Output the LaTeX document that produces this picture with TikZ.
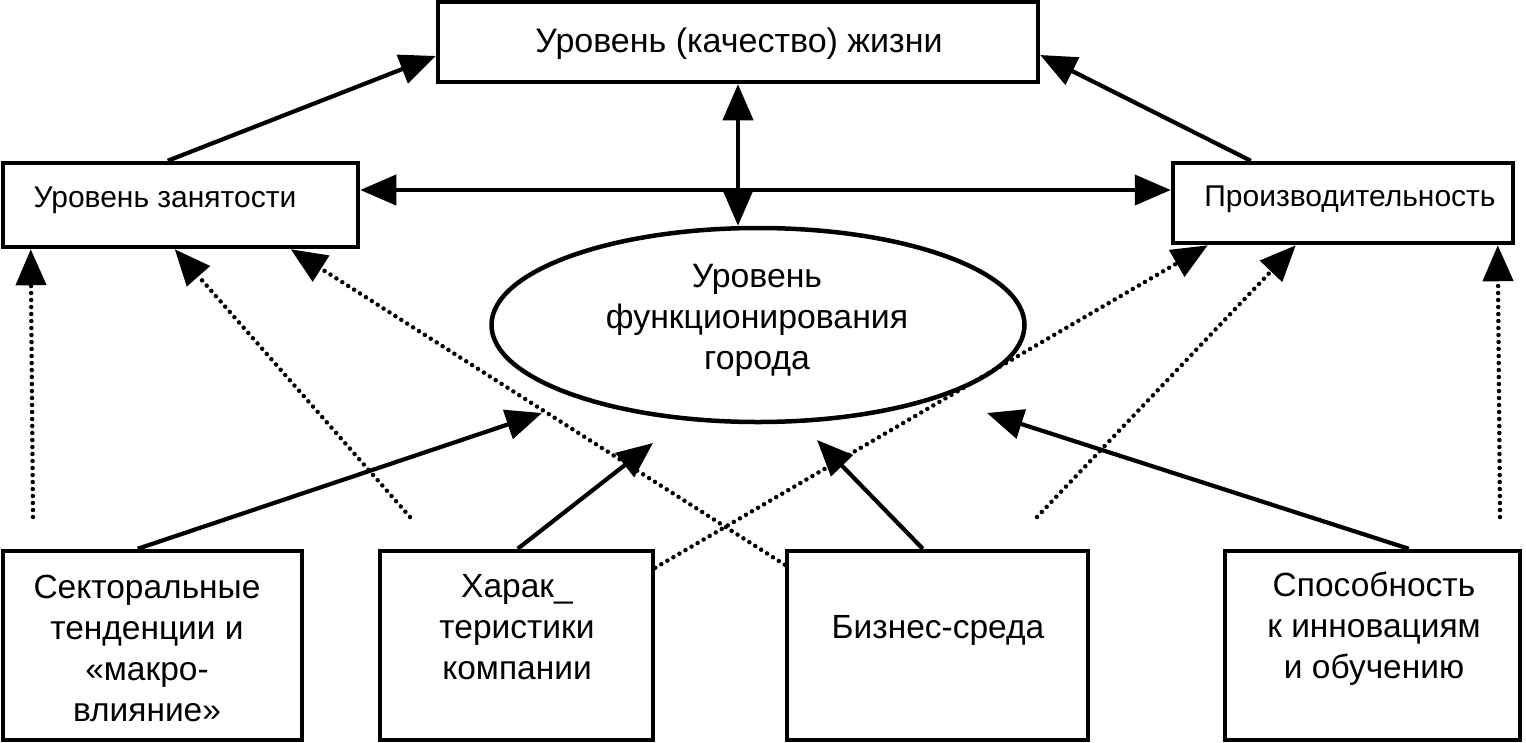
\documentclass[tikz,border=0pt]{standalone}
\usepackage{fontspec}
\setmainfont{Liberation Sans}
\usetikzlibrary{arrows.meta,shapes.geometric}
\begin{document}
\begin{tikzpicture}[x=1pt,y=-1pt,
  box/.style={draw,line width=4.5pt,rectangle,inner sep=0pt},
  arr/.style={line width=4.2pt,-{Triangle[length=36pt,width=30pt]}},
  dblarr/.style={line width=4.2pt,{Triangle[length=36pt,width=30pt]}-{Triangle[length=36pt,width=30pt]}},
  dotarr/.style={line width=4.5pt,line cap=round,dash pattern=on 0pt off 7pt,-{Triangle[length=36pt,width=30pt]}},
  txt/.style={align=center,inner sep=0pt}]
\useasboundingbox (0,0) rectangle (1526,742);
% boxes
\node[box,minimum width=600pt,minimum height=80pt] (tbox) at (738,42) {};
\node[txt,font=\fontsize{34}{40}\selectfont] (ttxt) at (739,44) {Уровень (качество) жизни};
\node[box,minimum width=355pt,minimum height=84pt] (lbox) at (180.5,205) {};
\node[txt,font=\fontsize{30}{36}\selectfont] (ltxt) at (165,200) {Уровень занятости};
\node[box,minimum width=340pt,minimum height=80pt] (rbox) at (1343,203) {};
\node[txt,font=\fontsize{30}{36}\selectfont] (rtxt) at (1350,199) {Производительность};
\node[draw,ellipse,line width=4.5pt,minimum width=533pt,minimum height=194pt,inner sep=0pt] (ell) at (758,325) {};
\node[txt,font=\fontsize{33.8}{41}\selectfont] (etxt) at (757,320) {Уровень\\функционирования\\города};
\node[box,minimum width=299pt,minimum height=189pt] (b1) at (152.5,645.5) {};
\node[txt,font=\fontsize{33.5}{41}\selectfont] (b1t) at (147,648) {Секторальные\\тенденции и\\«макро-\\влияние»};
\node[box,minimum width=273pt,minimum height=189pt] (b2) at (516.5,645.5) {};
\node[txt,font=\fontsize{33.5}{41}\selectfont] (b2t) at (517,627) {Харак\_\\теристики\\компании};
\node[box,minimum width=301pt,minimum height=189pt] (b3) at (937.5,645.5) {};
\node[txt,font=\fontsize{33.5}{41}\selectfont] (b3t) at (938,630) {Бизнес-среда};
\node[box,minimum width=295pt,minimum height=189pt] (b4) at (1372.5,645.5) {};
\node[txt,font=\fontsize{33.5}{41}\selectfont] (b4t) at (1374,629) {Способность\\к инновациям\\и обучению};
% free ends of dotted arrows
\coordinate (d1) at (33,517);
\coordinate (d2) at (410,517);
\coordinate (d5) at (1037,517);
\coordinate (d6) at (1500,517);
% solid arrows
\draw[arr] ([xshift=167pt]lbox.north west) -- ([yshift=-14pt]tbox.west);
\draw[arr] ([xshift=80pt]rbox.north west) -- ([yshift=-13pt]tbox.east);
\draw[dblarr] (tbox.south) -- (tbox.south |- ell.north);
\draw[dblarr] ([yshift=15pt]lbox.east) -- ([yshift=15pt]lbox.east -| rbox.west);
\draw[arr] ([xshift=137pt]b1.north west) -- ([xshift=-216pt,yshift=-88pt]ell.center);
\draw[arr] ([xshift=140pt]b2.north west) -- ([xshift=-105pt,yshift=-118pt]ell.center);
\draw[arr] ([xshift=138pt]b3.north west) -- ([xshift=59pt,yshift=-115pt]ell.center);
\draw[arr] ([xshift=186pt]b4.north west) -- ([xshift=229pt,yshift=-88pt]ell.center);
% dotted arrows
\draw[dotarr] (d1) -- ([xshift=30pt]lbox.south west);
\draw[dotarr] (d2) -- ([xshift=174pt]lbox.south west);
\draw[dotarr] ([yshift=-16pt]b3.north west) -- ([xshift=290pt]lbox.south west);
\draw[dotarr] ([yshift=-19pt]b2.north east) -- ([xshift=37pt]rbox.south west);
\draw[dotarr] (d5) -- ([xshift=125pt]rbox.south west);
\draw[dotarr] (d6) -- ([xshift=327pt]rbox.south west);
\end{tikzpicture}
\end{document}
